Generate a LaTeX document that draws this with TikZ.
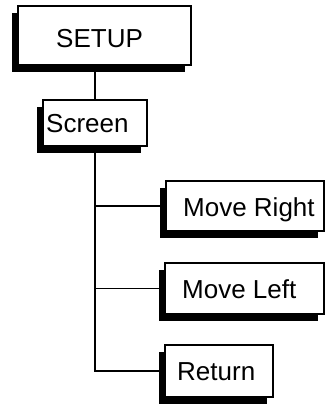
\documentclass[tikz,border=0pt]{standalone}
\usepackage{fontspec}
\setmainfont{Liberation Sans}
\usetikzlibrary{shadows}
\begin{document}
\begin{tikzpicture}[x=1pt,y=-1pt,
  box/.style={draw=black, line width=1.8pt, fill=white, anchor=north west, inner sep=0pt, outer sep=0pt,
    general shadow={shadow xshift=-6.5pt, shadow yshift=-6.5pt, fill=black, opacity=1}},
  lbl/.style={anchor=base west, inner sep=0pt, font=\fontsize{26}{30}\selectfont},
  conn/.style={draw=black, line width=1.8pt}]
\useasboundingbox (0,0) rectangle (327,405);
\node[box, minimum width=173pt, minimum height=59pt] (setup) at (18,6) {};
\node[box, minimum width=104pt, minimum height=46pt] (screen) at (43,100) {};
\node[box, minimum width=158pt, minimum height=50pt] (mr) at (166,181) {};
\node[box, minimum width=159pt, minimum height=51pt] (ml) at (165,263) {};
\node[box, minimum width=108pt, minimum height=52pt] (ret) at (165,345) {};
\node[lbl] (setupt) at (56,47) {SETUP};
\node[lbl] (screent) at (46,132) {Screen};
\node[lbl] (mrt) at (183,216) {Move Right};
\node[lbl] (mlt) at (182,298) {Move Left};
\node[lbl] (rett) at (177,380) {Return};
\draw[conn] (setup.south -| screen.north) -- (screen.north);
\draw[conn] (screen.south) -- (screen.south |- ret.west) -- (ret.west);
\draw[conn] (screen.south |- mr.west) -- (mr.west);
\draw[conn] (screen.south |- ml.west) -- (ml.west);
\end{tikzpicture}
\end{document}
